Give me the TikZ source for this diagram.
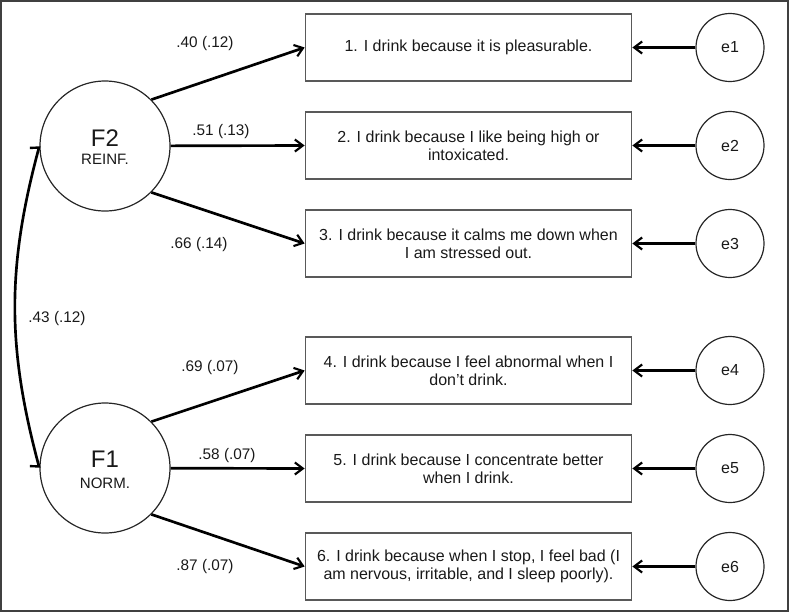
\documentclass[tikz,border=0pt]{standalone}
\usepackage{fontspec}
\setmainfont{Liberation Sans}
\usetikzlibrary{arrows.meta}
\begin{document}
\begin{tikzpicture}[x=0.75pt,y=-0.75pt,
  item/.style={draw=black!65,line width=1.3pt,minimum width=244.5pt,minimum height=50.25pt,inner sep=0pt,align=center,font=\fontsize{12}{13.8}\selectfont,text=black!90},
  factor/.style={circle,draw=black!85,line width=0.9pt,minimum size=97.5pt,inner sep=0pt},
  err/.style={circle,draw=black!85,line width=0.9pt,minimum size=51pt,inner sep=0pt,font=\fontsize{12}{14}\selectfont,text=black!90},
  arr/.style={line width=2pt,-{Straight Barb[length=6pt,width=9pt,line width=1.6pt]}},
  cov/.style={line width=2pt,{Straight Barb[harpoon,swap,length=2pt,width=13pt,line width=1.8pt]}-{Straight Barb[harpoon,length=2pt,width=13pt,line width=1.8pt]}},
  lbl/.style={font=\fontsize{11.5}{13}\selectfont,inner sep=0pt,text=black!90},
  big/.style={font=\fontsize{18}{20}\selectfont,inner sep=0pt,anchor=base,text=black!90},
  small/.style={font=\fontsize{11.3}{13}\selectfont,inner sep=0pt,anchor=base,text=black!90},
]
\useasboundingbox (0,0) rectangle (789,612);
\draw[draw=black!75,line width=1.8pt] (1,1) rectangle (788,611);

% factors
\node[factor] (F2) at (105,146) {};
\node[factor] (F1) at (105,468) {};
\node[big] (F2t) at (105,146) {F2};
\node[small] (F2s) at (105,164.5) {REINF.};
\node[big] (F1t) at (105,467) {F1};
\node[small] (F1s) at (105,488) {NORM.};

% items
\node[item] (b1) at (468.5,47.5) {1. I drink because it is pleasurable.};
\node[item] (b2) at (468.5,145.5) {2. I drink because I like being high or\\intoxicated.};
\node[item] (b3) at (468.5,243.5) {3. I drink because it calms me down when\\I am stressed out.};
\node[item] (b4) at (468.5,370.5) {4. I drink because I feel abnormal when I\\don’t drink.};
\node[item] (b5) at (468.5,468.5) {5. I drink because I concentrate better\\when I drink.};
\node[item] (b6) at (468.5,566.5) {6. I drink because when I stop, I feel bad (I\\am nervous, irritable, and I sleep poorly).};

% errors
\foreach \i/\y in {1/47.5,2/145.5,3/243.5,4/370.5,5/468.5,6/566.5}{
  \node[err] (e\i) at (730,\y) {e\i};
  \draw[arr] (e\i) -- (b\i);
}

% loadings
\draw[arr] (F2.45) -- (b1.west);
\draw[arr] (F2) -- (b2.west);
\draw[arr] (F2.-45) -- (b3.west);
\draw[arr] (F1.45) -- (b4.west);
\draw[arr] (F1) -- (b5.west);
\draw[arr] (F1.-45) -- (b6.west);

\node[lbl] (l1) at (205,44) {.40 (.12)};
\node[lbl] (l2) at (221,132) {.51 (.13)};
\node[lbl] (l3) at (199,245) {.66 (.14)};
\node[lbl] (l4) at (210,368) {.69 (.07)};
\node[lbl] (l5) at (227,456) {.58 (.07)};
\node[lbl] (l6) at (205,567) {.87 (.07)};

% covariance
\draw[cov] (F1.west) to[out=105,in=255] (F2.west);
\node[lbl] (l7) at (57,319) {.43 (.12)};
\end{tikzpicture}
\end{document}
